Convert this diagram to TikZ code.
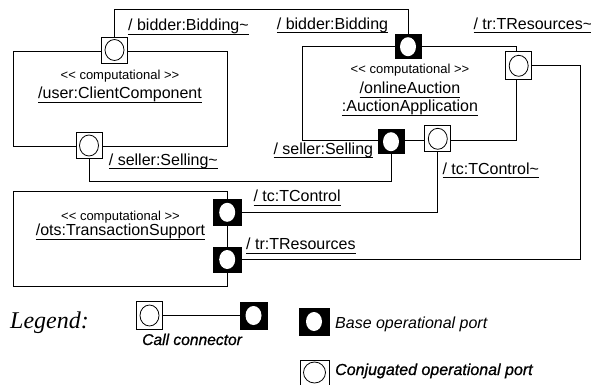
\documentclass[tikz,border=0pt]{standalone}
\usepackage{fontspec}
\setmainfont{Liberation Sans}
\newfontfamily\lgserif{Liberation Serif}
\newfontfamily\lgsemi{Liberation Sans}[ItalicFeatures={RawFeature={embolden=0.8}}]
\newcommand{\myul}[1]{\setbox0\hbox{#1}\rlap{\vrule height -3pt depth 4pt width \wd0}\box0}
\newcommand{\stereotxt}{<\kern0pt< computational >\kern0pt>}
\tikzset{
 compbox/.style={draw, line width=0.9pt, inner sep=0pt, outer sep=0pt, anchor=north west},
 conjport/.style={draw, fill=white, line width=0.9pt, inner sep=0pt, outer sep=0pt,
   minimum width=26pt, minimum height=26pt,
   path picture={\draw[line width=0.8pt] (path picture bounding box.center) ellipse [x radius=9.5pt, y radius=10.5pt];}},
 baseport/.style={draw, fill=black, line width=0.9pt, inner sep=0pt, outer sep=0pt,
   minimum width=26pt, minimum height=24pt,
   path picture={\fill[white] (path picture bounding box.center) ellipse [x radius=8pt, y radius=9.5pt];}},
 lbl/.style={anchor=base west, inner sep=0pt, font=\fontsize{16}{19}\selectfont},
 stereo/.style={anchor=base, inner sep=0pt, font=\fontsize{13}{15}\selectfont},
 cname/.style={anchor=base, inner sep=0pt, font=\fontsize{16}{19}\selectfont},
 lgtext/.style={anchor=base west, inner sep=0pt, font=\fontsize{16}{19}\selectfont\itshape},
 conn/.style={line width=0.9pt},
}
\begin{document}
\begin{tikzpicture}[x=1pt,y=-1pt]
\useasboundingbox (0,0) rectangle (591,385);
% components
\node[compbox, minimum width=214.7pt, minimum height=95pt] (client) at (13,51) {};
\node[compbox, minimum width=214pt, minimum height=93.3pt] (online) at (302.7,46.7) {};
\node[compbox, minimum width=214.4pt, minimum height=95pt] (ots) at (13.3,191.7) {};
% component texts
\node[stereo] (cst) at (120,80) {\stereotxt};
\node[cname] (cnm) at (120,99) {\myul{/user:ClientComponent}};
\node[stereo] (ost) at (410,74) {\stereotxt};
\node[cname] (onm1) at (410,94) {\myul{/onlineAuction}};
\node[cname] (onm2) at (410,111.5) {\myul{:AuctionApplication}};
\node[stereo] (tst) at (120.5,220) {\stereotxt};
\node[cname] (tnm) at (120.5,235.5) {\myul{/ots:TransactionSupport}};
% ports
\node[conjport] (pBidT) at (114.5,50) {};
\node[conjport] (pSellT) at (89,145.5) {};
\node[baseport] (pBid) at (408,46.7) {};
\node[conjport, minimum height=28pt] (pTrT) at (518.7,65.8) {};
\node[baseport] (pSell) at (391,141.7) {};
\node[conjport] (pTcT) at (437.8,138.8) {};
\node[baseport, minimum width=27.5pt, minimum height=26.5pt] (pTc) at (227.2,212.3) {};
\node[baseport, minimum width=27.5pt, minimum height=25pt] (pTr) at (227.2,259.5) {};
% connectors
\coordinate (topy) at (0,9.3);
\coordinate (selly) at (0,181.5);
\coordinate (rx) at (580,0);
\draw[conn] (pBidT.north) |- (topy -| pBid.north) -- (pBid.north);
\draw[conn] (pSellT.south) |- (selly -| pSell.south) -- (pSell.south);
\draw[conn] (pTcT.south) |- (pTc.east);
\draw[conn] (pTrT.east) -| (rx |- pTr.east) -- (pTr.east);
% port labels
\node[lbl] (l1) at (128,31) {\myul{/ bidder:Bidding\textasciitilde}};
\node[lbl] (l2) at (276.7,29.5) {\myul{/ bidder:Bidding}};
\node[lbl] (l3) at (473.3,29.5) {\myul{/ tr:TResources\textasciitilde}};
\node[lbl] (l4) at (108.7,165) {\myul{/ seller:Selling\textasciitilde}};
\node[lbl] (l5) at (273.3,154) {\myul{/ seller:Selling}};
\node[lbl] (l6) at (442.3,174) {\myul{/ tc:TControl\textasciitilde}};
\node[lbl] (l7) at (253.3,201.5) {\myul{/ tc:TControl}};
\node[lbl] (l8) at (246,249.5) {\myul{/ tr:TResources}};
% legend
\node[anchor=base west, inner sep=0pt, font=\lgserif\itshape\fontsize{24}{28}\selectfont] (lg) at (10,328) {Legend:};
\node[conjport, minimum width=25.6pt, minimum height=27.6pt] (lgC) at (149.5,315.5) {};
\node[baseport, minimum width=27pt, minimum height=27pt] (lgB) at (253.5,315.5) {};
\draw[conn] (lgC.east) -- (lgB.west);
\node[lgtext, font=\fontsize{15.6}{18}\selectfont\lgsemi\itshape] (lgct) at (142,345) {Call connector};
\node[baseport, minimum width=30pt, minimum height=27pt] (lgBp) at (314,321.5) {};
\node[lgtext] (lgbt) at (335,328) {Base operational port};
\node[conjport, minimum width=29pt, minimum height=25pt, path picture={\draw[line width=0.8pt] (path picture bounding box.center) ellipse [x radius=11pt, y radius=10.5pt];}] (lgCp) at (314.5,372.5) {};
\node[lgtext, font=\fontsize{16}{18}\selectfont\lgsemi\itshape] (lgcpt) at (335,375) {Conjugated operational port};
\end{tikzpicture}
\end{document}
